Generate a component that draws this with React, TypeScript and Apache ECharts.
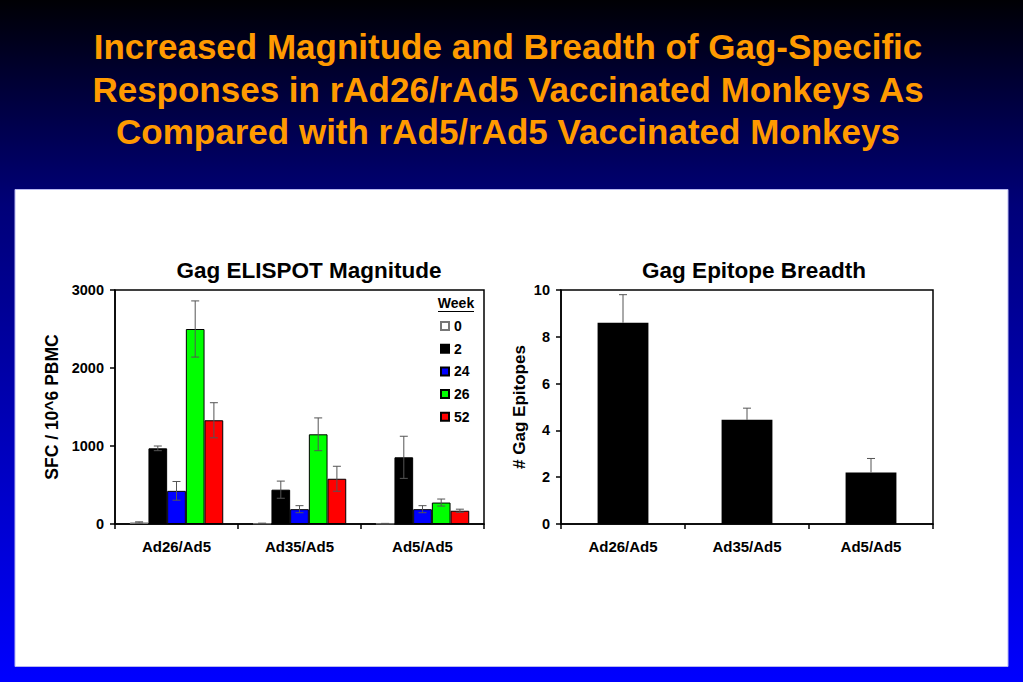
import React, { useEffect, useRef } from "react";
import * as echarts from "echarts";

const titleLines = [
  "Increased Magnitude and Breadth of Gag-Specific",
  "Responses in rAd26/rAd5 Vaccinated Monkeys As",
  "Compared with rAd5/rAd5 Vaccinated Monkeys",
];
const categories = ["Ad26/Ad5", "Ad35/Ad5", "Ad5/Ad5"];
const weeks = ["0", "2", "24", "26", "52"];
const weekColors = ["#ffffff", "#000000", "#0000ff", "#00ff00", "#ff0000"];
const week0 = [20, 8, 5];
const week0Err = [8, 3, 3];
const week2 = [970, 440, 855];
const week2Err = [30, 110, 270];
const week24 = [425, 190, 190];
const week24Err = [120, 45, 45];
const week26 = [2500, 1150, 275];
const week26Err = [360, 210, 45];
const week52 = [1330, 580, 170];
const week52Err = [225, 160, 20];
const magnitudeTicks = [0, 1000, 2000, 3000];
const breadth = [8.6, 4.45, 2.2];
const breadthErr = [1.2, 0.5, 0.6];
const breadthTicks = [0, 2, 4, 6, 8, 10];

const FONT = "'Liberation Sans', Arial, Helvetica, sans-serif";

export default function App() {
  const ref = useRef<HTMLDivElement>(null);
  useEffect(() => {
    if (!ref.current) return;
    const chart = echarts.init(ref.current, null, { renderer: "svg" });
    const weekValues = [week0, week2, week24, week26, week52];
    const weekErrs = [week0Err, week2Err, week24Err, week26Err, week52Err];
    const errData: number[][] = [];
    weekValues.forEach((vals, k) =>
      vals.forEach((v, i) => errData.push([i, v, weekErrs[k][i], k]))
    );
    const axisCommon = {
      axisLine: { show: true, lineStyle: { color: "#000", width: 1.5 } },
      axisTick: { show: true, length: 5, lineStyle: { color: "#000", width: 1.5 } },
      splitLine: { show: false },
    };
    const titleY = [46, 89, 131.5];
    const option: any = {
      animation: false,
      backgroundColor: new echarts.graphic.LinearGradient(0, 0, 0, 1, [
        { offset: 0, color: "#000004" },
        { offset: 0.15, color: "#000040" },
        { offset: 0.3, color: "#000078" },
        { offset: 1, color: "#0000ff" },
      ]),
      graphic: [
        {
          type: "rect",
          z: -10,
          shape: { x: 15, y: 189.5, width: 993, height: 477 },
          style: { fill: "#ffffff", stroke: "#b8b8f0", lineWidth: 1 },
        },
        ...titleLines.map((t, i) => ({
          type: "text",
          x: 508,
          y: titleY[i],
          style: {
            text: t,
            font: `bold 35px ${FONT}`,
            fill: "#ff9a00",
            align: "center",
            verticalAlign: "middle",
          },
        })),
        {
          type: "text",
          x: 456,
          y: 303,
          style: {
            text: "Week",
            font: `bold 14px ${FONT}`,
            fill: "#000",
            align: "center",
            verticalAlign: "middle",
          },
        },
        {
          type: "line",
          shape: { x1: 438, y1: 311.5, x2: 474, y2: 311.5 },
          style: { stroke: "#000", lineWidth: 1.2 },
        },
      ],
      title: [
        {
          text: "Gag ELISPOT Magnitude",
          left: 304,
          top: 254,
          textAlign: "center",
          textStyle: { color: "#000", fontFamily: FONT, fontWeight: "bold", fontSize: 22.5 },
        },
        {
          text: "Gag Epitope Breadth",
          left: 749,
          top: 254,
          textAlign: "center",
          textStyle: { color: "#000", fontFamily: FONT, fontWeight: "bold", fontSize: 22.5 },
        },
      ],
      legend: {
        data: weeks,
        orient: "vertical",
        left: 435,
        top: 314,
        itemWidth: 8,
        itemHeight: 8,
        itemGap: 8.7,
        icon: "rect",
        selectedMode: false,
        textStyle: { color: "#000", fontFamily: FONT, fontWeight: "bold", fontSize: 14 },
      },
      grid: [
        {
          left: 115,
          top: 290,
          width: 369,
          height: 234,
          show: true,
          borderColor: "#000",
          borderWidth: 1.5,
          backgroundColor: "transparent",
        },
        {
          left: 561,
          top: 290,
          width: 372,
          height: 234,
          show: true,
          borderColor: "#000",
          borderWidth: 1.5,
          backgroundColor: "transparent",
        },
      ],
      xAxis: [0, 1].map((g) => ({
        type: "category",
        gridIndex: g,
        data: categories,
        ...axisCommon,
        axisLabel: {
          margin: 15,
          color: "#000",
          fontFamily: FONT,
          fontWeight: "bold",
          fontSize: 15,
        },
      })),
      yAxis: [
        {
          type: "value",
          gridIndex: 0,
          min: magnitudeTicks[0],
          max: magnitudeTicks[magnitudeTicks.length - 1],
          interval: magnitudeTicks[1] - magnitudeTicks[0],
          ...axisCommon,
          axisLabel: {
            margin: 11,
            color: "#000",
            fontFamily: FONT,
            fontWeight: "bold",
            fontSize: 14.5,
            formatter: (v: number) => String(v),
          },
          name: "SFC / 10^6 PBMC",
          nameLocation: "middle",
          nameGap: 54,
          nameRotate: 90,
          nameTextStyle: { color: "#000", fontFamily: FONT, fontWeight: "bold", fontSize: 17.5 },
        },
        {
          type: "value",
          gridIndex: 1,
          min: breadthTicks[0],
          max: breadthTicks[breadthTicks.length - 1],
          interval: breadthTicks[1] - breadthTicks[0],
          ...axisCommon,
          axisLabel: {
            margin: 11,
            color: "#000",
            fontFamily: FONT,
            fontWeight: "bold",
            fontSize: 14.5,
            formatter: (v: number) => String(v),
          },
          name: "# Gag Epitopes",
          nameLocation: "middle",
          nameGap: 33,
          nameRotate: 90,
          nameTextStyle: { color: "#000", fontFamily: FONT, fontWeight: "bold", fontSize: 17 },
        },
      ],
      series: [
        ...weeks.map((w, k) => ({
          type: "bar",
          name: w,
          xAxisIndex: 0,
          yAxisIndex: 0,
          data: weekValues[k],
          barGap: "0%",
          barCategoryGap: "24%",
          itemStyle: {
            color: weekColors[k],
            borderColor: k === 0 ? "#777" : "#000",
            borderWidth: 1,
          },
        })),
        {
          type: "custom",
          name: "err1",
          xAxisIndex: 0,
          yAxisIndex: 0,
          z: 5,
          data: errData,
          encode: { x: 0, y: 1 },
          renderItem: (params: any, api: any) => {
            const cat = api.value(0);
            const val = api.value(1);
            const err = api.value(2);
            const k = api.value(3);
            const base = api.coord([cat, val]);
            const band = api.size([1, 0])[0];
            const bw = (band * 0.76) / 5;
            const x = base[0] + (k - 2) * bw;
            const yTop = api.coord([cat, val + err])[1];
            const yBot = api.coord([cat, Math.max(0, val - err)])[1];
            const style = { stroke: "#555", lineWidth: 1 };
            return {
              type: "group",
              children: [
                { type: "line", shape: { x1: x, y1: yTop, x2: x, y2: yBot }, style },
                { type: "line", shape: { x1: x - 4, y1: yTop, x2: x + 4, y2: yTop }, style },
                { type: "line", shape: { x1: x - 4, y1: yBot, x2: x + 4, y2: yBot }, style },
              ],
            };
          },
        },
        {
          type: "bar",
          name: "breadth",
          xAxisIndex: 1,
          yAxisIndex: 1,
          data: breadth,
          barWidth: "41%",
          itemStyle: { color: "#000" },
        },
        {
          type: "custom",
          name: "err2",
          xAxisIndex: 1,
          yAxisIndex: 1,
          z: 5,
          data: breadth.map((v, i) => [i, v, breadthErr[i]]),
          encode: { x: 0, y: 1 },
          renderItem: (params: any, api: any) => {
            const cat = api.value(0);
            const val = api.value(1);
            const err = api.value(2);
            const base = api.coord([cat, val]);
            const yTop = api.coord([cat, val + err])[1];
            const x = base[0];
            const style = { stroke: "#555", lineWidth: 1 };
            return {
              type: "group",
              children: [
                { type: "line", shape: { x1: x, y1: yTop, x2: x, y2: base[1] }, style },
                { type: "line", shape: { x1: x - 4, y1: yTop, x2: x + 4, y2: yTop }, style },
              ],
            };
          },
        },
      ],
    };
    chart.setOption(option);
    return () => chart.dispose();
  }, []);
  return (
    <div
      ref={ref}
      style={{ position: "absolute", left: 0, top: 0, width: 1023, height: 682 }}
    />
  );
}
